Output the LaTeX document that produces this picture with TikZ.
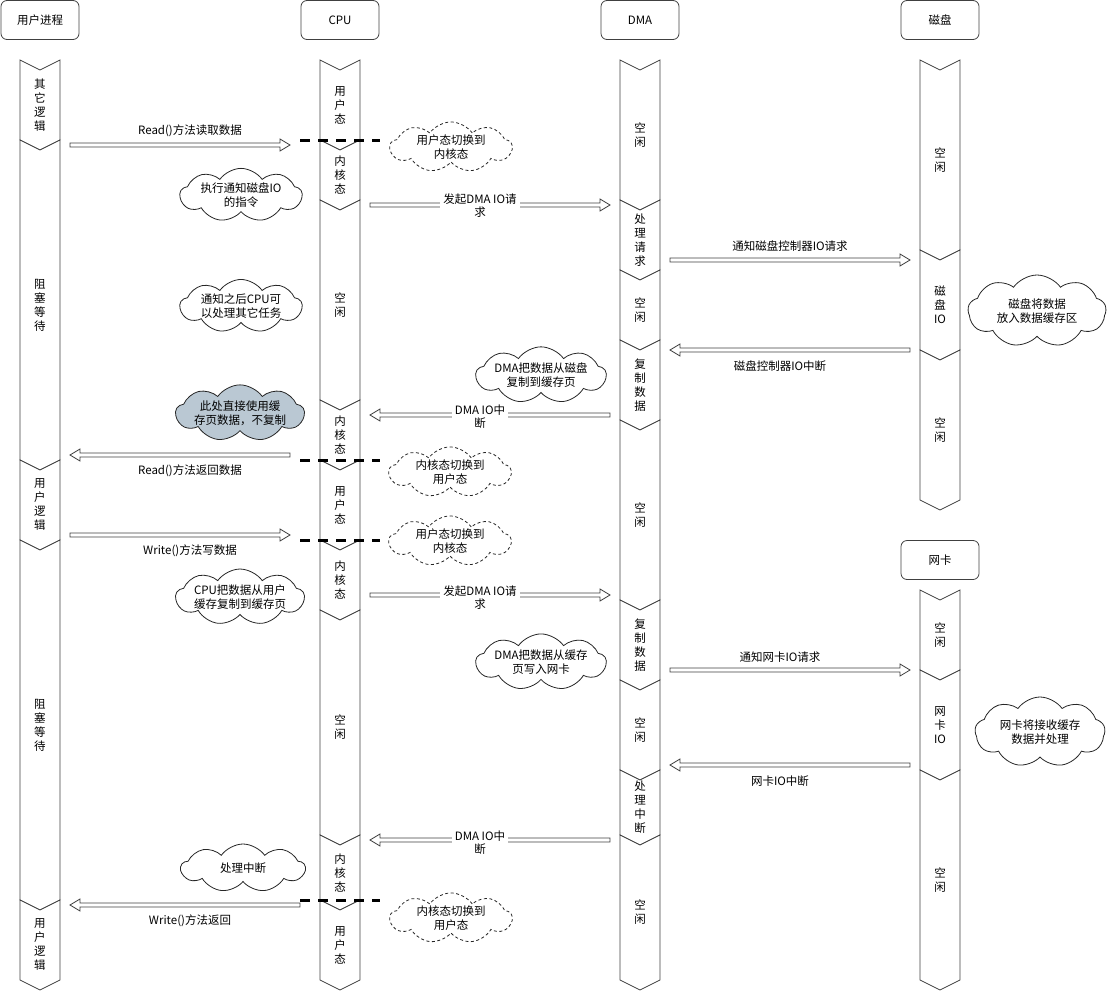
\documentclass[tikz,border=0pt]{standalone}
\usepackage{fontspec}
\setmainfont{Noto Sans CJK SC}
\usetikzlibrary{shapes.symbols,calc}
\tikzset{
  lane/.style={draw=black!75, line width=0.8pt, fill=white},
  lanetext/.style={font=\fontsize{11.5}{14}\selectfont, align=center, inner sep=0pt},
  headbox/.style={draw=black!75, rounded corners=6pt, line width=0.8pt, minimum width=78pt, minimum height=39pt, font=\fontsize{11.5}{14}\selectfont, inner sep=0pt},
  msg/.style={font=\fontsize{11.5}{13}\selectfont, align=center, inner sep=1pt},
  msgw/.style={msg, fill=white, inner xsep=3pt},
  farrow/.style={draw=black!75, fill=white, line width=0.8pt},
  switchline/.style={draw=black, line width=3pt, dash pattern=on 10pt off 8pt},
  note/.style={cloud, cloud puffs=9, cloud puff arc=110, cloud ignores aspect, draw=black!85, line width=0.8pt, fill=white, align=center, font=\fontsize{11.5}{14}\selectfont, inner sep=0pt},
  dnote/.style={note, dash pattern=on 3pt off 2.5pt},
  gnote/.style={note, fill=gray2},
}
\definecolor{gray2}{HTML}{BAC8D3}
\newcommand\lseg[5]{%
  \draw[lane] (#1-20,#2) -- (#1,#2+10) -- (#1+20,#2) -- (#1+20,#3) -- (#1,#3+10) -- (#1-20,#3) -- cycle;
  \node[lanetext] (#4) at (#1,{(#2+#3)/2+5}) {#5};
}
\newcommand\farr[4]{%
  \coordinate (#4s) at (#1,#3);
  \coordinate (#4e) at (#2,#3);
  \pgfmathsetmacro\sg{sign(#2-#1)}%
  \draw[farrow] ($(#4s)+(0,-2)$) -- ($(#4e)+(-10*\sg,-2)$) -- ($(#4e)+(-10*\sg,-6)$) -- (#4e) -- ($(#4e)+(-10*\sg,6)$) -- ($(#4e)+(-10*\sg,2)$) -- ($(#4s)+(0,2)$) -- cycle;
}
\begin{document}
\begin{tikzpicture}[x=1pt,y=-1pt]
\useasboundingbox (0,0) rectangle (1111,991);
% headers
\node[headbox] (hu) at (40,20) {用户进程};
\node[headbox] (hc) at (340,20) {CPU};
\node[headbox] (hd) at (640,20) {DMA};
\node[headbox] (hk) at (940,20) {磁盘};
\node[headbox] (hn) at (940,560) {网卡};
% user process lifeline
\lseg{40}{60}{140}{u1}{其\\它\\逻\\辑}
\lseg{40}{140}{460}{u2}{阻\\塞\\等\\待}
\lseg{40}{460}{540}{u3}{用\\户\\逻\\辑}
\lseg{40}{540}{900}{u4}{阻\\塞\\等\\待}
\lseg{40}{900}{980}{u5}{用\\户\\逻\\辑}
% CPU lifeline
\lseg{340}{60}{140}{c1}{用\\户\\态}
\lseg{340}{140}{200}{c2}{内\\核\\态}
\lseg{340}{200}{400}{c3}{空\\闲}
\lseg{340}{400}{460}{c4}{内\\核\\态}
\lseg{340}{460}{540}{c5}{用\\户\\态}
\lseg{340}{540}{610}{c6}{内\\核\\态}
\lseg{340}{610}{835}{c7}{空\\闲}
\lseg{340}{835}{900}{c8}{内\\核\\态}
\lseg{340}{900}{980}{c9}{用\\户\\态}
% DMA lifeline
\lseg{640}{60}{200}{d1}{空\\闲}
\lseg{640}{200}{270}{d2}{处\\理\\请\\求}
\lseg{640}{270}{340}{d3}{空\\闲}
\lseg{640}{340}{420}{d4}{复\\制\\数\\据}
\lseg{640}{420}{600}{d5}{空\\闲}
\lseg{640}{600}{680}{d6}{复\\制\\数\\据}
\lseg{640}{680}{770}{d7}{空\\闲}
\lseg{640}{770}{835}{d8}{处\\理\\中\\断}
\lseg{640}{835}{980}{d9}{空\\闲}
% disk lifeline
\lseg{940}{60}{250}{k1}{空\\闲}
\lseg{940}{250}{350}{k2}{磁\\盘\\IO}
\lseg{940}{350}{500}{k3}{空\\闲}
% NIC lifeline
\lseg{940}{590}{670}{n1}{空\\闲}
\lseg{940}{670}{770}{n2}{网\\卡\\IO}
\lseg{940}{770}{980}{n3}{空\\闲}
% arrows
\farr{70}{290}{145}{a1}
\farr{370}{610}{205}{a2}
\farr{670}{910}{260}{a3}
\farr{910}{670}{350}{a4}
\farr{610}{370}{415}{a5}
\farr{290}{70}{455}{a6}
\farr{70}{290}{535}{a7}
\farr{370}{610}{595}{a8}
\farr{670}{910}{670}{a9}
\farr{910}{670}{765}{a10}
\farr{610}{370}{840}{a11}
\farr{300}{70}{905}{a12}
% arrow labels
\node[msg] (l1) at (190,131) {Read()方法读取数据};
\node[msgw] (l2) at (480,206) {发起DMA IO请\\求};
\node[msg] (l3) at (790,246) {通知磁盘控制器IO请求};
\node[msg] (l4) at (780,366) {磁盘控制器IO中断};
\node[msgw] (l5) at (480,417) {DMA IO中\\断};
\node[msg] (l6) at (190,471) {Read()方法返回数据};
\node[msg] (l7) at (190,551) {Write()方法写数据};
\node[msgw] (l8) at (480,598) {发起DMA IO请\\求};
\node[msg] (l9) at (780,657) {通知网卡IO请求};
\node[msg] (l10) at (780,781) {网卡IO中断};
\node[msgw] (l11) at (480,843) {DMA IO中\\断};
\node[msg] (l12) at (190,921) {Write()方法返回};
% mode switch lines
\coordinate (s1a) at (300,140); \coordinate (s1b) at (380,140);
\coordinate (s2a) at (300,460); \coordinate (s2b) at (380,460);
\coordinate (s3a) at (300,540); \coordinate (s3b) at (380,540);
\coordinate (s4a) at (300,900); \coordinate (s4b) at (380,900);
\draw[switchline] (s1a) -- (s1b);
\draw[switchline] (s2a) -- (s2b);
\draw[switchline] (s3a) -- (s3b);
\draw[switchline] (s4a) -- (s4b);
% dashed clouds
\node[dnote, minimum width=122pt, minimum height=50pt] (w1) at (451,147) {用户态切换到\\内核态};
\node[dnote, minimum width=122pt, minimum height=50pt] (w2) at (450,472) {内核态切换到\\用户态};
\node[dnote, minimum width=122pt, minimum height=46pt] (w3) at (450,541) {用户态切换到\\内核态};
\node[dnote, minimum width=122pt, minimum height=50pt] (w4) at (451,918) {内核态切换到\\用户态};
% notes
\node[note, minimum width=122pt, minimum height=44pt] (t1) at (241,195) {执行通知磁盘IO\\的指令};
\node[note, minimum width=122pt, minimum height=46pt] (t2) at (241,306) {通知之后CPU可\\以处理其它任务};
\node[note, minimum width=122pt, minimum height=45pt] (t3) at (541,375) {DMA把数据从磁盘\\复制到缓存页};
\node[gnote, minimum width=122pt, minimum height=45pt] (t4) at (240,413) {此处直接使用缓\\存页数据，不复制};
\node[note, minimum width=122pt, minimum height=46pt] (t5) at (240,597) {CPU把数据从用户\\缓存复制到缓存页};
\node[note, minimum width=122pt, minimum height=46pt] (t6) at (541,662) {DMA把数据从缓存\\页写入网卡};
\node[note, minimum width=124pt, minimum height=48pt] (t7) at (243,868) {处理中断};
\node[note, minimum width=138pt, minimum height=72pt] (t8) at (1037,311) {磁盘将数据\\放入数据缓存区};
\node[note, minimum width=130pt, minimum height=70pt] (t9) at (1040,732) {网卡将接收缓存\\数据并处理};
\end{tikzpicture}
\end{document}
